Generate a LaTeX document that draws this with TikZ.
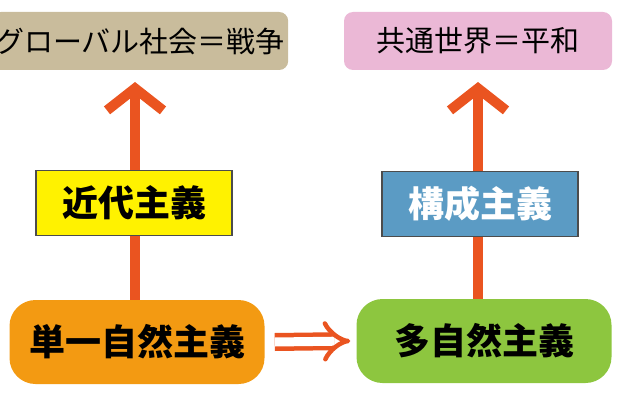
\documentclass[tikz,border=0pt]{standalone}
\usepackage{fontspec}
\setmainfont{Noto Sans CJK JP}
\usetikzlibrary{arrows.meta,positioning}
\definecolor{beige}{HTML}{C9BC9C}
\definecolor{pinkbox}{HTML}{EBB8D6}
\definecolor{orangebox}{HTML}{F39A12}
\definecolor{greenbox}{HTML}{8DC63F}
\definecolor{bluebox}{HTML}{5B9BC4}
\definecolor{arrowred}{HTML}{EA5420}
\tikzset{
  goal/.style={rounded corners=9pt, minimum width=268pt, minimum height=58pt, font=\fontsize{29}{29}\selectfont},
  base/.style={rounded corners=26pt, minimum width=255pt, minimum height=84pt, font=\bfseries\fontsize{36}{36}\selectfont},
  label/.style={draw=black!70, line width=1.2pt, minimum width=196pt, minimum height=65pt, font=\bfseries\fontsize{36}{36}\selectfont},
  up/.style={draw=arrowred, line width=10pt, -{Straight Barb[length=22pt,width=56pt,line width=10pt]}}
}
\begin{document}
\begin{tikzpicture}[x=1pt,y=-1pt]
\useasboundingbox (0,0) rectangle (620,401);
\node[goal, fill=beige] (global) at (140,41) {グローバル社会＝戦争};
\node[goal, fill=pinkbox] (common) at (478,41) {共通世界＝平和};
\node[base, fill=orangebox] (single) at (137,342) {単一自然主義};
\node[base, fill=greenbox] (multi) at (484,341) {多自然主義};
\coordinate (lefttop) at (135,82);
\coordinate (righttop) at (478,82);
\draw[up] (single.north -| lefttop) -- (lefttop);
\draw[up] (multi.north -| righttop) -- (righttop);
\node[label, fill=yellow] (modern) at (134,203) {近代主義};
\node[label, fill=bluebox, text=white] (constr) at (480,204) {構成主義};
\draw[draw=arrowred, line width=4.5pt, double distance=9pt, -{Implies}] ([xshift=10pt]single.east) -- ([xshift=-6pt]multi.west);
\end{tikzpicture}
\end{document}
